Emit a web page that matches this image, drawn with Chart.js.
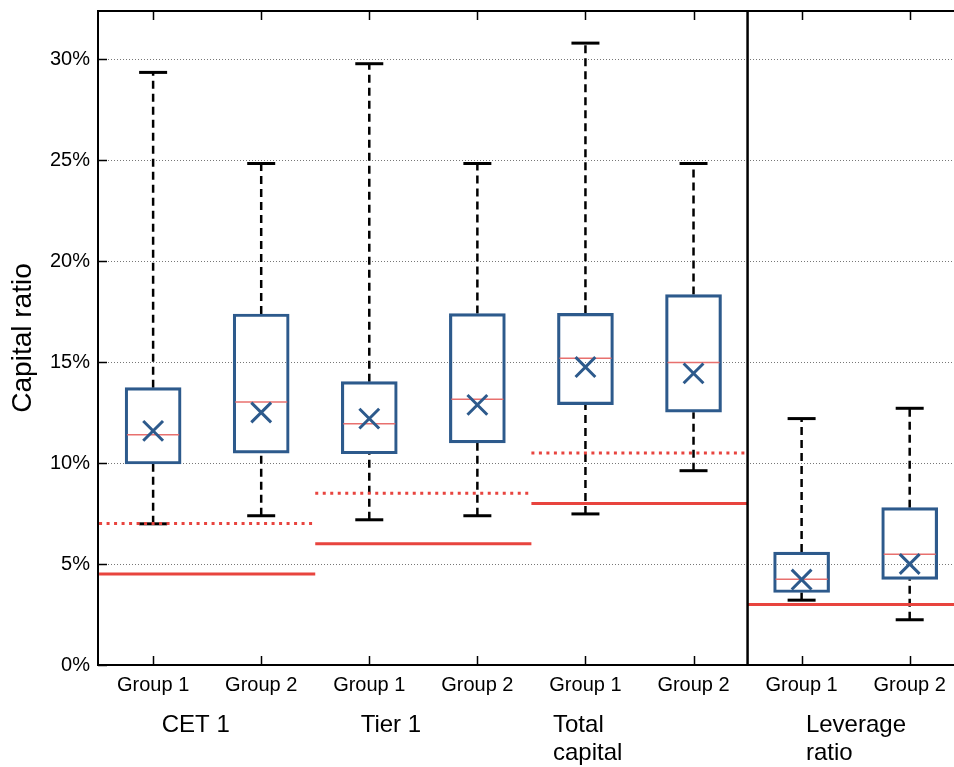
<!DOCTYPE html>
<html>
<head>
<meta charset="utf-8">
<script src="https://cdn.jsdelivr.net/npm/chart.js@4"></script>
<style>
html,body{margin:0;padding:0;background:#fff;}
#wrap{width:954px;height:767px;}
</style>
</head>
<body>
<div id="wrap"><canvas id="c" width="954" height="767"></canvas></div>
<script>
// ---- data ----
const groupLabels = ['Group 1', 'Group 2', 'Group 1', 'Group 2', 'Group 1', 'Group 2', 'Group 1', 'Group 2'];
const categoryLabels = [['CET 1'], ['Tier 1'], ['Total', 'capital'], ['Leverage', 'ratio']];
const whiskerLow  = [6.99, 7.39, 7.19, 7.39, 7.48, 9.62, 3.21, 2.24];
const quartile1   = [9.95, 10.49, 10.46, 11.00, 12.89, 12.52, 3.59, 4.24];
const medians     = [11.40, 13.02, 11.94, 13.16, 15.19, 14.98, 4.24, 5.48];
const means       = [11.59, 12.50, 12.20, 12.88, 14.75, 14.44, 4.23, 5.00];
const quartile3   = [13.73, 17.38, 14.03, 17.40, 17.41, 18.34, 5.59, 7.79];
const whiskerHigh = [29.34, 24.83, 29.77, 24.83, 30.79, 24.83, 12.20, 12.71];
const minimumRequirement = [4.5, 6.0, 8.0, 3.0];
const bufferRequirement  = [7.0, 8.5, 10.5, null];
const yTickValues = [0, 5, 10, 15, 20, 25, 30];

// ---- derived datasets ----
const idx = groupLabels.map((_, i) => i);
const boxData = idx.map(i => ({x: i, y: [quartile1[i], quartile3[i]]}));
const medianData = idx.map(i => ({x: i, y: medians[i]}));
const meanData = idx.map(i => ({x: i, y: means[i]}));
const whiskerData = [];
idx.forEach(i => {
  whiskerData.push({x: i, y: whiskerLow[i]}, {x: i, y: quartile1[i]}, {x: i, y: null});
  whiskerData.push({x: i, y: quartile3[i]}, {x: i, y: whiskerHigh[i]}, {x: i, y: null});
});
const capData = [];
idx.forEach(i => { capData.push({x: i, y: whiskerLow[i]}, {x: i, y: whiskerHigh[i]}); });
function thresholdData(vals) {
  const out = [];
  vals.forEach((v, c) => {
    if (v === null) return;
    out.push({x: 2 * c - 0.5, y: v}, {x: 2 * c + 1.5, y: v}, {x: 2 * c + 1.5, y: null});
  });
  return out;
}
const Y_MAX = 32.38;
const BLUE = '#2D5A8C';
const RED = '#E8443E';

function zeroPadding(s) { s.paddingTop = 0; s.paddingBottom = 0; s.paddingLeft = 0; s.paddingRight = 0; }

const framePlugin = {
  id: 'framePlugin',
  afterDatasetsDraw(chart, args, opts) {
    const {ctx, chartArea: a, scales: {x, y}} = chart;
    ctx.save();
    ctx.strokeStyle = '#000';
    ctx.lineWidth = 2;
    ctx.beginPath();
    ctx.moveTo(a.left - 1, a.top);
    ctx.lineTo(a.right, a.top);
    ctx.stroke();
    ctx.lineWidth = 1.5;
    ctx.beginPath();
    yTickValues.forEach(v => {
      const py = Math.round(y.getPixelForValue(v)) + 0.5;
      ctx.moveTo(a.left, py); ctx.lineTo(a.left + 9, py);
    });
    idx.forEach(i => {
      const px = Math.round(x.getPixelForValue(i)) + 0.5;
      ctx.moveTo(px, a.bottom); ctx.lineTo(px, a.bottom - 9);
      ctx.moveTo(px, a.top); ctx.lineTo(px, a.top + 9);
    });
    ctx.stroke();
    ctx.restore();
  },
  afterDraw(chart, args, opts) {
    const {ctx, scales: {x}} = chart;
    ctx.save();
    ctx.fillStyle = '#000';
    ctx.font = '24px "Liberation Sans", Arial, sans-serif';
    ctx.textAlign = 'left';
    ctx.textBaseline = 'alphabetic';
    categoryLabels.forEach((lines, c) => {
      const px = x.getPixelForValue(opts.anchors[c]);
      lines.forEach((t, k) => ctx.fillText(t, px, opts.baseline + k * opts.lineGap));
    });
    ctx.restore();
  }
};

new Chart(document.getElementById('c'), {
  data: {
    datasets: [
      {type: 'line', label: 'separator', data: [{x: 5.5, y: 0}, {x: 5.5, y: Y_MAX}],
       borderColor: '#000', borderWidth: 2.5, pointRadius: 0, order: 0},
      {type: 'line', label: 'mean', data: meanData, showLine: false, pointStyle: 'crossRot',
       pointRadius: 14, pointBorderColor: BLUE, pointBorderWidth: 3, order: 1},
      {type: 'line', label: 'median', data: medianData, showLine: false, pointStyle: 'line',
       pointRadius: 26, pointBorderColor: '#E8706E', pointBorderWidth: 1.5, order: 2},
      {type: 'bar', label: 'box', data: boxData, backgroundColor: 'rgba(255,255,255,0)',
       borderColor: BLUE, borderWidth: 2.5, borderSkipped: false, barThickness: 56, order: 3},
      {type: 'line', label: 'buffer', data: thresholdData(bufferRequirement), borderColor: RED,
       borderWidth: 3, borderDash: [3, 4.5], pointRadius: 0, spanGaps: false, order: 4},
      {type: 'line', label: 'minimum', data: thresholdData(minimumRequirement), borderColor: RED,
       borderWidth: 3, pointRadius: 0, spanGaps: false, order: 4},
      {type: 'line', label: 'caps', data: capData, showLine: false, pointStyle: 'line',
       pointRadius: 14, pointBorderColor: '#000', pointBorderWidth: 3, order: 5},
      {type: 'line', label: 'whiskers', data: whiskerData, borderColor: '#000', borderWidth: 2.5,
       borderDash: [8, 5], pointRadius: 0, spanGaps: false, order: 6}
    ]
  },
  options: {
    responsive: false,
    animation: false,
    devicePixelRatio: 1,
    layout: {autoPadding: false, padding: {top: 11, right: 0, bottom: 0, left: 0}},
    plugins: {
      legend: {display: false},
      tooltip: {enabled: false},
      framePlugin: {anchors: [0.08, 1.92, 3.70, 6.04], baseline: 732, lineGap: 28}
    },
    scales: {
      x: {
        type: 'linear', min: -0.51, max: 7.41, offset: false,
        afterBuildTicks: s => { s.ticks = idx.map(i => ({value: i})); },
        afterFit: s => { s.height = 102; zeroPadding(s); },
        grid: {display: false, drawTicks: false, offset: false},
        border: {display: true, color: '#000', width: 2},
        ticks: {
          callback: (v, i) => groupLabels[v],
          color: '#000', padding: 8, maxRotation: 0, autoSkip: false,
          font: {family: '"Liberation Sans", Arial, sans-serif', size: 20}
        }
      },
      y: {
        type: 'linear', min: 0, max: Y_MAX,
        afterBuildTicks: s => { s.ticks = yTickValues.map(v => ({value: v})); },
        afterFit: s => { s.width = 98; zeroPadding(s); },
        grid: {color: '#777', lineWidth: 1, drawTicks: false},
        border: {display: true, color: '#000', width: 2, dash: [1, 2]},
        ticks: {
          callback: v => v + '%',
          color: '#000', padding: 8,
          font: {family: '"Liberation Sans", Arial, sans-serif', size: 20}
        },
        title: {
          display: true, text: 'Capital ratio', color: '#000',
          padding: {top: 6, bottom: 0},
          font: {family: '"Liberation Sans", Arial, sans-serif', size: 28}
        }
      }
    }
  },
  plugins: [framePlugin]
});
</script>
</body>
</html>
